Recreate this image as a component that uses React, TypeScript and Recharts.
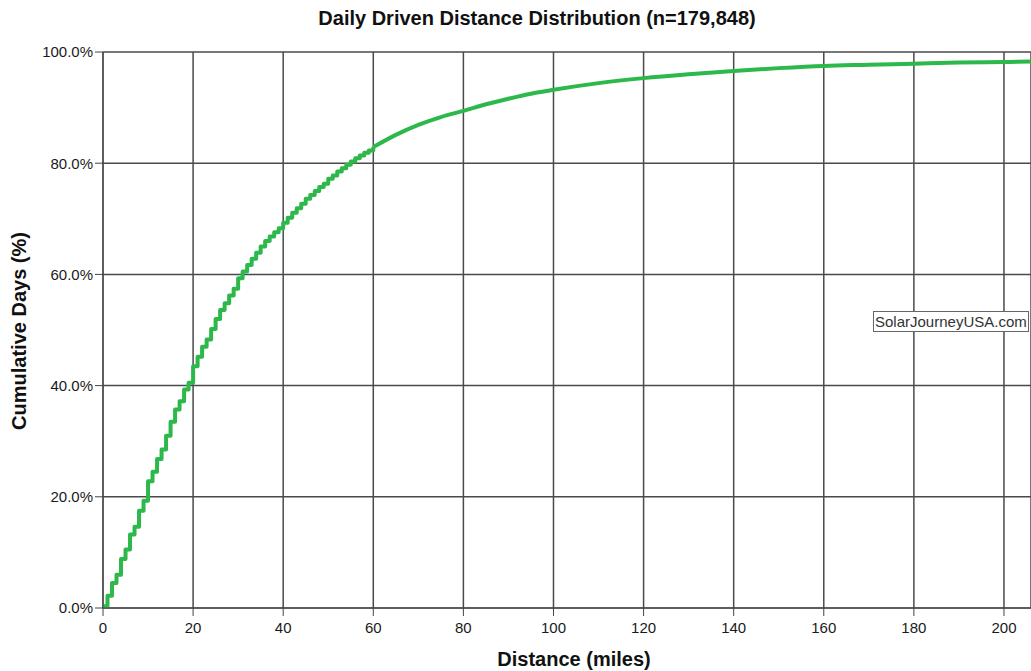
import { LineChart, Line, XAxis, YAxis, CartesianGrid } from 'recharts';

const nearMiles = [
  0, 1, 2, 3, 4, 5, 6, 7, 8, 9, 10, 11, 12, 13, 14, 15, 16, 17, 18, 19, 20,
  21, 22, 23, 24, 25, 26, 27, 28, 29, 30, 31, 32, 33, 34, 35, 36, 37, 38, 39, 40,
  41, 42, 43, 44, 45, 46, 47, 48, 49, 50, 51, 52, 53, 54, 55, 56, 57, 58, 59, 60,
];
const nearPct = [
  0.3, 2.2, 4.5, 6.0, 8.8, 10.5, 13.2, 14.6, 17.5, 19.3, 22.8,
  24.5, 26.8, 28.5, 31.0, 33.5, 35.7, 37.2, 39.3, 40.5, 43.5,
  45.2, 47.0, 48.3, 50.2, 52.0, 53.6, 54.8, 56.2, 57.4, 59.3,
  60.5, 61.7, 62.8, 63.9, 65.0, 66.0, 66.8, 67.6, 68.3, 69.3,
  70.2, 71.1, 71.9, 72.7, 73.6, 74.3, 75.0, 75.7, 76.3, 77.2,
  77.8, 78.5, 79.1, 79.7, 80.3, 80.9, 81.4, 81.9, 82.3, 82.9,
];

// the smooth tail
const farMiles = [60, 65, 70, 75, 80, 85, 90, 95, 100, 110, 120, 130, 140, 150, 160, 170, 180, 190, 200, 206];
const farPct = [82.9, 85.1, 86.9, 88.3, 89.4, 90.6, 91.6, 92.5, 93.2, 94.4, 95.3, 96.0, 96.6, 97.1, 97.5, 97.7, 97.9, 98.1, 98.2, 98.3];

const xTicks = [0, 20, 40, 60, 80, 100, 120, 140, 160, 180, 200];
const yTicks = [0, 20, 40, 60, 80, 100];

const nearData = nearMiles.map((m, i) => ({ mile: m, pct: nearPct[i] }));
const farData = farMiles.map((m, i) => ({ mile: m, pct: farPct[i] }));

const FONT = '"Liberation Sans", Arial, sans-serif';
const GREEN = '#2db84b';

export default function App() {
  return (
    <div style={{ position: 'absolute', left: 0, top: 0, width: 1031, height: 671, background: '#fff', fontFamily: FONT, overflow: 'hidden' }}>
      <div style={{ position: 'absolute', left: 0, width: 1074, top: 6, textAlign: 'center', fontSize: 20, fontWeight: 'bold', color: '#111', lineHeight: '24px' }}>
        Daily Driven Distance Distribution (n=179,848)
      </div>

      <LineChart width={1031} height={671} margin={{ top: 52, right: 0, bottom: 0, left: 0 }}>
        <CartesianGrid stroke="#4a4a4a" strokeWidth={1.5} />
        <XAxis
          type="number"
          dataKey="mile"
          domain={[0, 206]}
          ticks={xTicks}
          allowDataOverflow
          height={63}
          stroke="#444"
          tickSize={8}
          tickMargin={6}
          tick={{ fill: '#1a1a1a', fontSize: 15, fontFamily: FONT }}
        />
        <YAxis
          type="number"
          domain={[0, 100]}
          ticks={yTicks}
          width={103}
          stroke="#444"
          tickSize={8}
          tickMargin={2}
          tickFormatter={(v: number) => `${v.toFixed(1)}%`}
          tick={{ fill: '#1a1a1a', fontSize: 15, fontFamily: FONT }}
        />
        <Line
          data={nearData}
          dataKey="pct"
          type="stepAfter"
          stroke={GREEN}
          strokeWidth={4}
          strokeLinejoin="round"
          dot={false}
          isAnimationActive={false}
        />
        <Line
          data={farData}
          dataKey="pct"
          type="monotone"
          stroke={GREEN}
          strokeWidth={4}
          dot={false}
          isAnimationActive={false}
        />
      </LineChart>

      <div style={{ position: 'absolute', left: 117, width: 914, top: 647, textAlign: 'center', fontSize: 20, fontWeight: 'bold', color: '#111', lineHeight: '24px' }}>
        Distance (miles)
      </div>
      <div
        style={{
          position: 'absolute',
          left: 19,
          top: 331,
          transform: 'translate(-50%, -50%) rotate(-90deg)',
          whiteSpace: 'nowrap',
          fontSize: 20,
          fontWeight: 'bold',
          color: '#111',
          lineHeight: '24px',
        }}
      >
        Cumulative Days (%)
      </div>
      <div
        style={{
          position: 'absolute',
          left: 873,
          top: 311,
          padding: '0px 1px',
          border: '1px solid #666',
          background: '#fff',
          fontSize: 15,
          color: '#333',
          lineHeight: '19px',
        }}
      >
        SolarJourneyUSA.com
      </div>
    </div>
  );
}
